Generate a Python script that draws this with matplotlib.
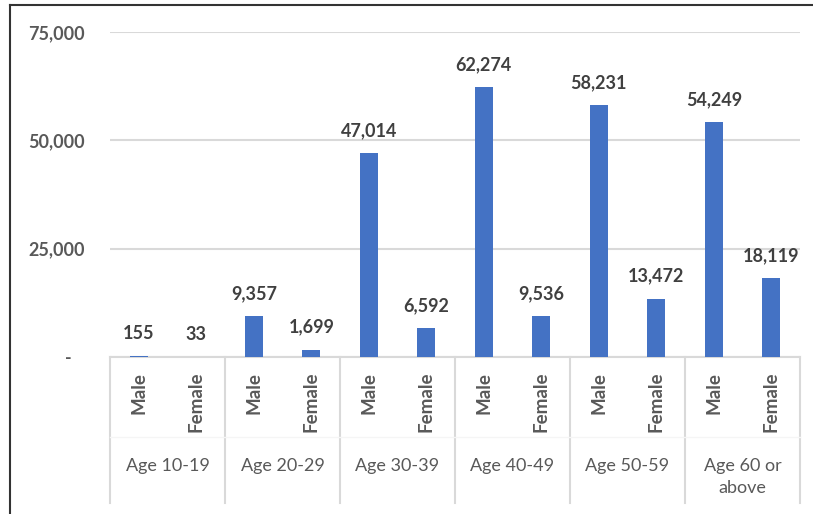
import matplotlib.pyplot as plt
from matplotlib.lines import Line2D

# values
age_groups = ["Age 10-19", "Age 20-29", "Age 30-39", "Age 40-49", "Age 50-59", "Age 60 or\nabove"]
genders = ["Male", "Female"]
counts = [155, 33, 9357, 1699, 47014, 6592, 62274, 9536, 58231, 13472, 54249, 18119]
y_ticks = [0, 25000, 50000, 75000]
y_tick_labels = ["-   ", "25,000", "50,000", "75,000"]

plt.rcParams["font.family"] = ["Lato", "DejaVu Sans"]

W, H = 813, 514
fig = plt.figure(figsize=(W / 100, H / 100), dpi=100)
ax = fig.add_axes([110 / W, 1 - 357 / H, 690 / W, 325 / H])

x = list(range(len(counts)))
ax.bar(x, counts, width=0.32, color="#4472C4", zorder=3)

for xi, v in zip(x, counts):
    ax.annotate(f"{v:,}", (xi, v), xytext=(0, 10), textcoords="offset points",
                ha="center", va="bottom", fontsize=13, fontweight="bold", color="#404040")

ax.set_xlim(-0.5, len(counts) - 0.5)
ax.set_ylim(0, 75000)
ax.set_yticks(y_ticks)
ax.set_yticklabels(y_tick_labels, fontsize=13, fontweight="bold", color="#595959")
ax.tick_params(axis="y", length=0, pad=18)
ax.set_xticks([])
ax.grid(axis="y", color="#d9d9d9", linewidth=1.5, zorder=0)
for s in ["top", "right", "left"]:
    ax.spines[s].set_visible(False)
ax.spines["bottom"].set_color("#d9d9d9")
ax.spines["bottom"].set_linewidth(1.5)

# two-level category axis
tr = ax.get_xaxis_transform()
for i, g in enumerate(age_groups):
    for j, sex in enumerate(genders):
        ax.text(2 * i + j, -0.046, sex, rotation=90, ha="center", va="top",
                transform=tr, fontsize=13.5, fontweight="bold", color="#595959")
    ax.text(2 * i + 0.5, -0.31, g, ha="center", va="top", transform=tr,
            fontsize=13, color="#595959", linespacing=1.5)
for k in range(len(age_groups) + 1):
    ax.add_line(Line2D([2 * k - 0.5, 2 * k - 0.5], [0, -0.449], transform=tr,
                       color="#d9d9d9", linewidth=1.5, clip_on=False))
ax.add_line(Line2D([-0.5, len(counts) - 0.5], [-0.246, -0.246], transform=tr,
                   color="#f5f5f5", linewidth=1, clip_on=False))

# outer frame (left and top edges visible)
fig.add_artist(Line2D([10 / W, 10 / W], [0, 1 - 5 / H], color="#333333", linewidth=1.5))
fig.add_artist(Line2D([10 / W, 1], [1 - 5 / H, 1 - 5 / H], color="#333333", linewidth=1.5))

fig.savefig("out.png", dpi=100)
